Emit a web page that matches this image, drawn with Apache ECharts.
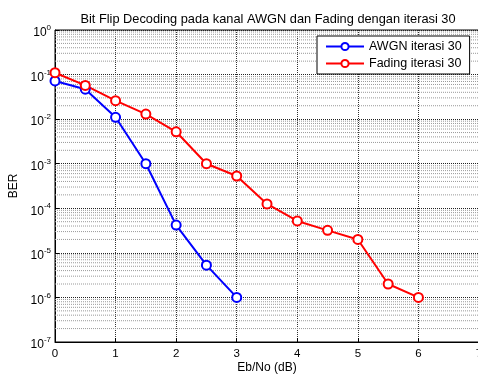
<!DOCTYPE html>
<html>
<head>
<meta charset="utf-8">
<script src="https://cdn.jsdelivr.net/npm/echarts@6/dist/echarts.min.js"></script>
<style>
  html, body { margin: 0; padding: 0; background: #fff; }
  #chart { width: 478px; height: 374px; }
</style>
</head>
<body>
<div id="chart"></div>
<script>
// data
const ebno = [0, 0.5, 1, 1.5, 2, 2.5, 3, 3.5, 4, 4.5, 5, 5.5, 6];
const awgn = [0.072, 0.047, 0.011, 0.001, 4.2e-5, 5.3e-6, 1e-6];
const fading = [0.11, 0.057, 0.026, 0.013, 0.0052, 0.001, 5.3e-4, 1.25e-4, 5.2e-5, 3.2e-5, 2e-5, 2e-6, 1e-6];
const decades = [-7, -6, -5, -4, -3, -2, -1];
const mantissas = [2, 3, 4, 5, 6, 7, 8, 9];

const font = 'Liberation Sans, Arial, sans-serif';

// minor log grid lines 2..9 x 10^n, one broken line across the plot
const minorGrid = [];
decades.forEach(d => mantissas.forEach(m => {
    const v = m * Math.pow(10, d);
    minorGrid.push([0, v], [7, v], [7, '-']);
}));

const pair = (ys) => ys.map((v, i) => [ebno[i], v]);

const chart = echarts.init(document.getElementById('chart'));
chart.setOption({
    animation: false,
    backgroundColor: '#fff',
    title: {
        text: 'Bit Flip Decoding pada kanal AWGN dan Fading dengan iterasi 30',
        left: 263,
        textAlign: 'center',
        top: 8,
        textStyle: {fontFamily: font, fontSize: 12.8, fontWeight: 'normal', color: '#000'}
    },
    legend: {
        orient: 'vertical',
        left: 317,
        top: 36,
        width: 152,
        backgroundColor: '#fff',
        borderColor: '#000',
        borderWidth: 1,
        padding: [4, 8, 4, 8],
        itemGap: 4,
        itemWidth: 38,
        itemHeight: 9,
        textStyle: {fontFamily: font, fontSize: 12.5, color: '#000'},
        data: ['AWGN iterasi 30', 'Fading iterasi 30']
    },
    grid: {
        left: 55, top: 30, width: 424, height: 312,
        outerBoundsMode: 'none',
        containLabel: false,
        show: true, borderColor: '#000', borderWidth: 1
    },
    xAxis: {
        type: 'value',
        min: 0, max: 7, interval: 1,
        name: 'Eb/No (dB)',
        nameLocation: 'middle',
        nameGap: 20,
        nameMoveOverlap: false,
        nameTextStyle: {fontFamily: font, fontSize: 12, color: '#000'},
        axisLine: {lineStyle: {color: '#000', width: 1}},
        axisTick: {inside: true, length: 4, lineStyle: {color: '#000'}},
        axisLabel: {fontFamily: font, fontSize: 11.5, color: '#000', margin: 6, showMaxLabel: true, hideOverlap: false},
        splitLine: {show: true, lineStyle: {color: '#333', type: [1, 1], width: 1}}
    },
    yAxis: {
        type: 'log',
        logBase: 10,
        min: 1e-7, max: 1, interval: 1,
        name: 'BER',
        nameLocation: 'middle',
        nameGap: 35,
        nameMoveOverlap: false,
        nameTextStyle: {fontFamily: font, fontSize: 12, color: '#000'},
        axisLine: {show: true, lineStyle: {color: '#000', width: 1}},
        axisTick: {inside: true, length: 4, lineStyle: {color: '#000'}},
        axisLabel: {
            margin: 4,
            formatter: function (v) {
                const e = Math.round(Math.log10(v));
                return '{b|10}{s|' + e + '}';
            },
            rich: {
                b: {fontFamily: font, fontSize: 12, color: '#000', padding: [6, 0, 0, 0]},
                s: {fontFamily: font, fontSize: 8, color: '#000', padding: [0, 0, 4, 0]}
            }
        },
        splitLine: {show: true, lineStyle: {color: '#222', type: [1, 1], width: 1}}
    },
    series: [
        {
            name: 'minor grid',
            type: 'line',
            data: minorGrid,
            symbol: 'none',
            silent: true,
            connectNulls: false,
            color: '#999',
            lineStyle: {width: 1, type: [1, 1], color: '#999'},
            z: 1
        },
        {
            name: 'AWGN iterasi 30',
            type: 'line',
            data: pair(awgn),
            symbol: 'emptyCircle',
            symbolSize: 9,
            color: '#0000ff',
            lineStyle: {width: 2},
            itemStyle: {borderWidth: 2},
            z: 5
        },
        {
            name: 'Fading iterasi 30',
            type: 'line',
            data: pair(fading),
            symbol: 'emptyCircle',
            symbolSize: 9,
            color: '#ff0000',
            lineStyle: {width: 2},
            itemStyle: {borderWidth: 2},
            z: 5
        }
    ]
});
</script>
</body>
</html>
